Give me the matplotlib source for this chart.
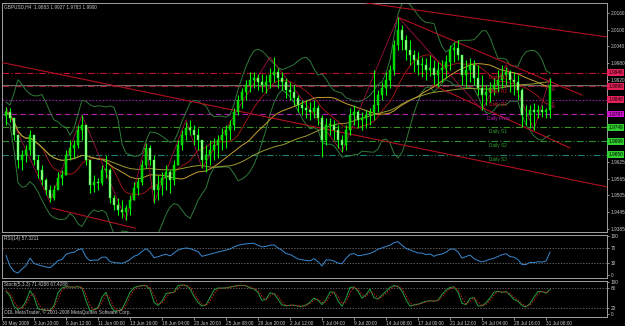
import numpy as np
import pandas as pd
import matplotlib
matplotlib.use("Agg")
import matplotlib.pyplot as plt
from matplotlib.patches import Rectangle
from matplotlib.transforms import blended_transform_factory

plt.rcParams["font.family"] = ["Liberation Sans", "DejaVu Sans"]

# ---------------------------------------------------------------------------
# Data (one entry per pair of 4H bars)
# ---------------------------------------------------------------------------
first_open = 1.9790
highs = [1.9822, 1.9819, 1.9783, 1.9722, 1.9668, 1.9686, 1.9740, 1.9722, 1.9650, 1.9614,
         1.9567, 1.9542, 1.9542, 1.9589, 1.9596, 1.9668, 1.9704, 1.9704, 1.9758, 1.9793,
         1.9758, 1.9632, 1.9578, 1.9567, 1.9614, 1.9650, 1.9603, 1.9506, 1.9495, 1.9488,
         1.9470, 1.9506, 1.9553, 1.9567, 1.9632, 1.9693, 1.9686, 1.9650, 1.9578, 1.9589,
         1.9614, 1.9596, 1.9632, 1.9704, 1.9740, 1.9768, 1.9776, 1.9758, 1.9747, 1.9704,
         1.9686, 1.9704, 1.9711, 1.9722, 1.9747, 1.9758, 1.9776, 1.9819, 1.9865, 1.9891,
         1.9919, 1.9948, 1.9948, 1.9941, 1.9941, 1.9937, 1.9962, 2.0002, 1.9962, 1.9948,
         1.9927, 1.9912, 1.9901, 1.9865, 1.9847, 1.9847, 1.9840, 1.9847, 1.9829, 1.9793,
         1.9783, 1.9783, 1.9776, 1.9758, 1.9722, 1.9758, 1.9819, 1.9829, 1.9811, 1.9804,
         1.9811, 1.9819, 1.9955, 1.9883, 1.9912, 1.9948, 1.9973, 2.0063, 2.0146, 2.0117,
         2.0081, 2.0063, 2.0027, 2.0020, 2.0002, 1.9998, 2.0009, 1.9991, 1.9984, 1.9991,
         2.0009, 2.0045, 2.0056, 2.0063, 2.0009, 1.9991, 1.9998, 1.9991, 1.9973, 1.9937,
         1.9901, 1.9912, 1.9927, 1.9955, 1.9973, 1.9966, 1.9955, 1.9948, 1.9937, 1.9891,
         1.9829, 1.9829, 1.9836, 1.9829, 1.9829, 1.9819, 1.9927]
lows = [1.9758, 1.9768, 1.9704, 1.9603, 1.9596, 1.9625, 1.9650, 1.9614, 1.9567, 1.9542,
        1.9506, 1.9481, 1.9488, 1.9531, 1.9542, 1.9578, 1.9632, 1.9639, 1.9675, 1.9704,
        1.9614, 1.9513, 1.9517, 1.9524, 1.9542, 1.9567, 1.9477, 1.9452, 1.9434, 1.9424,
        1.9416, 1.9434, 1.9488, 1.9506, 1.9542, 1.9603, 1.9614, 1.9477, 1.9488, 1.9506,
        1.9524, 1.9513, 1.9542, 1.9614, 1.9668, 1.9704, 1.9722, 1.9686, 1.9668, 1.9603,
        1.9589, 1.9614, 1.9632, 1.9639, 1.9668, 1.9675, 1.9704, 1.9740, 1.9793, 1.9819,
        1.9847, 1.9876, 1.9891, 1.9883, 1.9876, 1.9873, 1.9891, 1.9912, 1.9891, 1.9883,
        1.9855, 1.9847, 1.9829, 1.9804, 1.9793, 1.9783, 1.9776, 1.9783, 1.9758, 1.9643,
        1.9686, 1.9722, 1.9704, 1.9675, 1.9661, 1.9668, 1.9722, 1.9758, 1.9747, 1.9740,
        1.9747, 1.9758, 1.9776, 1.9804, 1.9847, 1.9865, 1.9891, 1.9937, 2.0027, 2.0027,
        1.9991, 1.9973, 1.9948, 1.9937, 1.9930, 1.9919, 1.9934, 1.9901, 1.9894, 1.9912,
        1.9927, 1.9955, 1.9984, 1.9991, 1.9901, 1.9894, 1.9912, 1.9901, 1.9865, 1.9811,
        1.9829, 1.9840, 1.9865, 1.9876, 1.9891, 1.9901, 1.9876, 1.9865, 1.9847, 1.9750,
        1.9758, 1.9747, 1.9740, 1.9783, 1.9786, 1.9783, 1.9783]
closes = [1.9804, 1.9783, 1.9722, 1.9632, 1.9650, 1.9668, 1.9722, 1.9632, 1.9596, 1.9560,
          1.9524, 1.9495, 1.9524, 1.9567, 1.9578, 1.9650, 1.9675, 1.9686, 1.9740, 1.9758,
          1.9632, 1.9542, 1.9553, 1.9549, 1.9596, 1.9596, 1.9495, 1.9470, 1.9452, 1.9445,
          1.9459, 1.9488, 1.9531, 1.9553, 1.9614, 1.9675, 1.9632, 1.9524, 1.9542, 1.9567,
          1.9589, 1.9560, 1.9614, 1.9686, 1.9722, 1.9747, 1.9740, 1.9722, 1.9704, 1.9632,
          1.9650, 1.9668, 1.9686, 1.9704, 1.9722, 1.9740, 1.9758, 1.9804, 1.9847, 1.9876,
          1.9901, 1.9919, 1.9927, 1.9912, 1.9901, 1.9912, 1.9937, 1.9948, 1.9927, 1.9912,
          1.9883, 1.9876, 1.9855, 1.9829, 1.9819, 1.9811, 1.9804, 1.9819, 1.9783, 1.9704,
          1.9758, 1.9758, 1.9740, 1.9704, 1.9686, 1.9740, 1.9793, 1.9804, 1.9776, 1.9783,
          1.9793, 1.9804, 1.9829, 1.9865, 1.9891, 1.9919, 1.9955, 2.0045, 2.0099, 2.0063,
          2.0027, 2.0009, 1.9991, 1.9973, 1.9973, 1.9955, 1.9962, 1.9937, 1.9955, 1.9962,
          1.9984, 2.0027, 2.0034, 2.0009, 1.9937, 1.9955, 1.9973, 1.9927, 1.9891, 1.9865,
          1.9876, 1.9891, 1.9901, 1.9919, 1.9937, 1.9948, 1.9919, 1.9912, 1.9883, 1.9793,
          1.9793, 1.9811, 1.9804, 1.9811, 1.9804, 1.9811, 1.9900]

time_tick_bars = [-1, 7, 15, 23, 31, 39, 47, 55, 63, 71, 79, 87, 95, 103, 111, 119, 127, 135]
time_labels = ["30 May 2008", "3 Jun 20:00", "6 Jun 12:00", "11 Jun 00:00", "13 Jun 16:00",
               "18 Jun 04:00", "20 Jun 20:00", "25 Jun 08:00", "29 Jun 20:00", "2 Jul 12:00",
               "7 Jul 04:00", "9 Jul 20:00", "14 Jul 08:00", "17 Jul 00:00", "21 Jul 12:00",
               "24 Jul 04:00", "28 Jul 16:00", "31 Jul 08:00"]

# the scale labels between 1.9920 and 1.9625 are hidden behind the pivot tags
price_ticks = [2.0160, 2.0100, 2.0040, 1.9980, 1.9920,
               1.9625, 1.9565, 1.9505, 1.9445, 1.9385]

pivot_names = ["Daily R3", "Daily R2", "Daily R1", "Daily Pivot", "Daily S1", "Daily S2", "Daily S3"]
pivot_levels = [1.9946, 1.9896, 1.9848, 1.9797, 1.9749, 1.9699, 1.9650]

# trend lines: (bar0, price0, bar1, price1)
trend_lines = [(-1.0, 1.9982, 150.25, 1.9535),
               (84.75, 2.0207, 150.25, 2.0074),
               (98.5, 2.0142, 144.0, 1.9865),
               (106.75, 1.9901, 141.0, 1.9675),
               (11.5, 1.9459, 32.25, 1.9387)]
zigzag_bars = [0, 11, 19, 30, 35, 37, 45, 49, 66, 84, 98, 119, 125, 132, 136]
zigzag_prices = [1.9822, 1.9481, 1.9793, 1.9416, 1.9693, 1.9477, 1.9776, 1.9603,
                 2.0002, 1.9661, 2.0146, 1.9811, 1.9973, 1.9740, 1.9927]

fractal_bars = [136.6, 136.6]
fractal_prices = [1.9887, 1.9826]

# ---------------------------------------------------------------------------
o = np.r_[first_open, closes[:-1]]
h = np.array(highs)
l = np.array(lows)
c = np.array(closes)
idx = np.arange(len(c))
cs = pd.Series(c)

ma_fast = cs.rolling(10, min_periods=1).mean()
sd = cs.rolling(10, min_periods=2).std().bfill()
bb_up = ma_fast + 2.4 * sd
bb_lo = ma_fast - 2.4 * sd
ma_mid = cs.rolling(25, min_periods=1).mean()
ma_slow = cs.rolling(50, min_periods=1).mean()

delta = cs.diff().fillna(0)
up = delta.clip(lower=0).ewm(alpha=1 / 9, adjust=False).mean()
dn = (-delta.clip(upper=0)).ewm(alpha=1 / 9, adjust=False).mean()
rsi = 100 - 100 / (1 + (up + 1e-4) / (dn + 1e-4))

hh = pd.Series(h).rolling(3, min_periods=1).max()
ll = pd.Series(l).rolling(3, min_periods=1).min()
k = 100 * (cs - ll).rolling(2, min_periods=1).sum() / (hh - ll).rolling(2, min_periods=1).sum()
d = k.rolling(2, min_periods=1).mean()

# ---------------------------------------------------------------------------
W, H = 625, 326
fig = plt.figure(figsize=(W / 100, H / 100), dpi=100, facecolor="black")


def rect(x0, y0, x1, y1):
    return [x0 / W, 1 - y1 / H, (x1 - x0) / W, (y1 - y0) / H]


ax = fig.add_axes(rect(2, 3, 607, 232))
ax_rsi = fig.add_axes(rect(2, 235, 607, 278))
ax_st = fig.add_axes(rect(2, 281, 607, 317))

fg = "#c8c8c8"
fs = 3.4
XL = (-1.0, 150.25)
for a in (ax, ax_rsi, ax_st):
    a.set_facecolor("black")
    a.set_xlim(*XL)
    for s in a.spines.values():
        s.set_color("#a0a0a0")
        s.set_linewidth(0.7)
    a.yaxis.tick_right()
    a.tick_params(axis="y", colors=fg, labelsize=fs, length=1.5, width=0.5, pad=1)
    a.tick_params(axis="x", bottom=False, labelbottom=False)

# main panel
ax.set_ylim(1.9373, 2.0196)
ax.set_yticks(price_ticks)
ax.set_yticklabels([f"{p:.4f}" for p in price_ticks])

pivot_styles = [("#c01030", (0, (6, 2, 1, 2))), ("#a02030", (0, (6, 2, 1, 2))),
                ("#9020a0", (0, (1.5, 1.5))), ("#b020b0", (0, (5, 3))),
                ("#3c9020", (0, (6, 2, 1, 2))), ("#2a9030", (0, (6, 2, 1, 2))),
                ("#208070", (0, (6, 2, 1, 2, 1, 2)))]
label_cols = ["#d02030", "#d02030", "#d02030", "#c020c0", "#30a030", "#30a030", "#30a030"]
tag_cols = ["#e8205a", "#e8205a", "#e8205a", "#d010d0", "#30d030", "#30d030", "#30d030"]
ytr = blended_transform_factory(ax.transAxes, ax.transData)
for name, lev, (col, ls), lc, tc in zip(pivot_names, pivot_levels, pivot_styles, label_cols, tag_cols):
    ax.axhline(lev, color=col, lw=0.8, ls=ls, zorder=1)
    ax.annotate(name, (123, lev), xytext=(0, -1.5), textcoords="offset points",
                ha="center", va="top", fontsize=fs, color=lc, zorder=6)
    ax.text(1.002, lev, f"{lev:.4f}", transform=ytr, fontsize=fs, color="black",
            va="center", ha="left", zorder=10, clip_on=False,
            bbox=dict(boxstyle="square,pad=0.2", fc=tc, ec="none"))

ax.axhline(closes[-1], color="#707070", lw=0.7, zorder=1)

ax.plot(idx, bb_up, color="#2f7a3a", lw=0.7, zorder=2)
ax.plot(idx, bb_lo, color="#2f7a3a", lw=0.7, zorder=2)
ax.plot(idx, ma_fast, color="#b01818", lw=0.6, zorder=2)
ax.plot(idx, ma_mid, color="#c8a030", lw=0.7, zorder=2)
ax.plot(idx, ma_slow, color="#9a9a30", lw=0.7, zorder=2)

for b0, p0, b1, p1 in trend_lines:
    ax.plot([b0, b1], [p0, p1], color="#b01020", lw=0.8, zorder=3)
ax.plot(zigzag_bars, zigzag_prices, color="#a01040", lw=0.6, zorder=3)

for i in idx:
    ax.vlines(i, l[i], h[i], color="#00ff00", lw=0.8, zorder=4)
    lo_b, hi_b = min(o[i], c[i]), max(o[i], c[i])
    fc = "#00d000" if c[i] >= o[i] else "#a0ffa0"
    ax.add_patch(Rectangle((i - 0.25, lo_b), 0.5, max(hi_b - lo_b, 0.0002),
                           fc=fc, ec="#00ff00", lw=0.3, zorder=5))

for fb, fp in zip(fractal_bars, fractal_prices):
    ax.text(fb, fp, "\u21e9", color="#e02050", fontsize=5.5, ha="center", va="center",
            zorder=6, family="DejaVu Sans")

ax.text(0.004, 0.995, "GBPUSD,H4  1.9883 1.9927 1.9783 1.9900", transform=ax.transAxes,
        fontsize=fs, color=fg, va="top", ha="left")

# RSI panel
ax_rsi.set_ylim(-7.7, 102.6)
ax_rsi.set_yticks([0, 30, 70, 100])
for lv in (30, 70):
    ax_rsi.axhline(lv, color="#808080", lw=0.5, ls=(0, (2, 2)))
ax_rsi.plot(idx, rsi, color="#3a8ad0", lw=0.7)
ax_rsi.text(0.004, 0.97, "RSI(14) 57.3211", transform=ax_rsi.transAxes,
            fontsize=fs, color=fg, va="top", ha="left")

# Stochastic panel
ax_st.set_ylim(-9.4, 103.1)
ax_st.set_yticks([0, 20, 80, 100])
for lv in (20, 80):
    ax_st.axhline(lv, color="#808080", lw=0.5, ls=(0, (2, 2)))
ax_st.plot(idx, k, color="#20a040", lw=0.7)
ax_st.plot(idx, d, color="#d02020", lw=0.7, ls=(0, (1.5, 1.5)))
ax_st.text(0.004, 0.97, "Stoch(5,3,3) 71.4288 67.4288", transform=ax_st.transAxes,
           fontsize=fs, color=fg, va="top", ha="left")
ax_st.text(0.004, 0.06, "ODL MetaTrader, \u00a9 2001-2008 MetaQuotes Software Corp.",
           transform=ax_st.transAxes, fontsize=fs, color=fg, va="bottom", ha="left")

ax_st.set_xticks(time_tick_bars)
ax_st.set_xticklabels(time_labels, ha="left")
ax_st.tick_params(axis="x", bottom=True, labelbottom=True, colors=fg, labelsize=fs,
                  length=2, width=0.5, pad=1)

fig.savefig("out.png", dpi=100, facecolor="black")
